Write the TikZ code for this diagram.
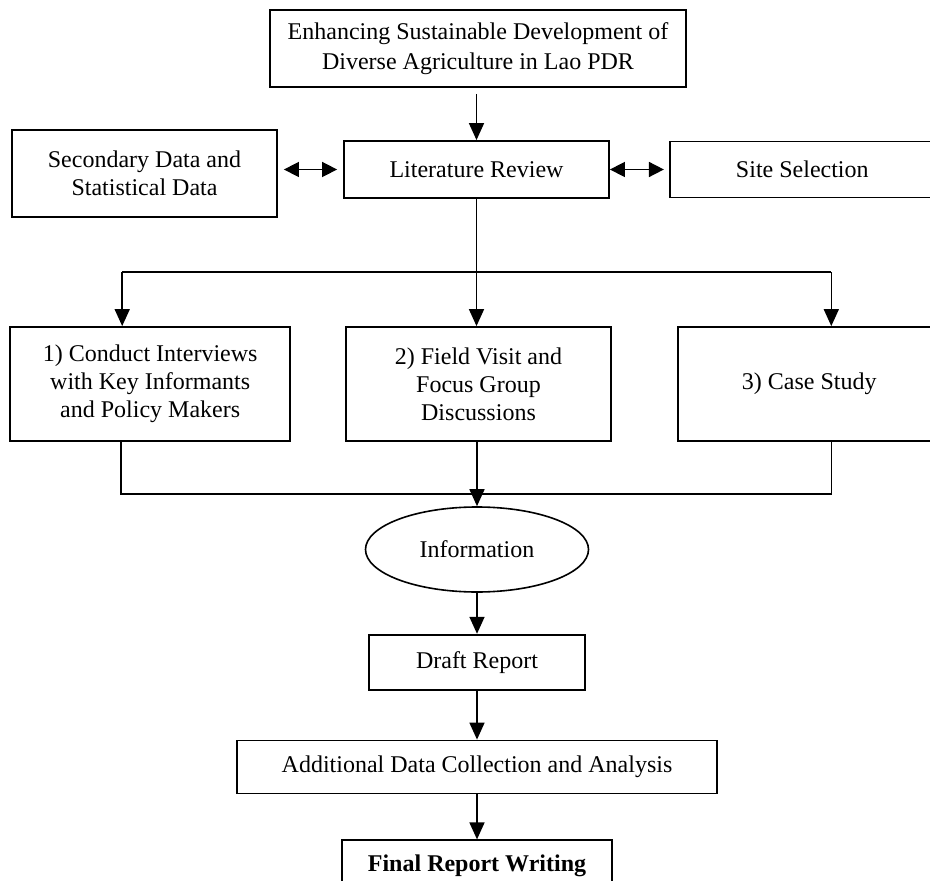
\documentclass[tikz,border=0pt]{standalone}
\usepackage{fontspec}
\setmainfont{Liberation Serif}
\usepackage{tikz}
\usetikzlibrary{arrows.meta,positioning,calc,shapes.geometric}

\begin{document}
\begin{tikzpicture}[
  every node/.style={font=\fontsize{12}{14}\selectfont},
  block/.style={draw,line width=0.9pt,inner sep=2pt,align=center},
  arr/.style={-{Triangle[length=8.5pt,width=7.5pt]},line width=0.8pt},
  dbl/.style={{Triangle[length=7.5pt,width=7.5pt]}-{Triangle[length=7.5pt,width=7.5pt]},line width=0.8pt},
  link/.style={line width=0.8pt}
]
\useasboundingbox (0,0) rectangle (465pt,-440.5pt);
\node[block,font=\fontsize{12}{15}\selectfont,minimum width=208pt,minimum height=38.5pt] (top) at (239pt,-24.25pt) {Enhancing Sustainable Development of\\Diverse Agriculture in Lao PDR};
\node[block,minimum width=132.5pt,minimum height=28.5pt] (lit) at (238.25pt,-84.75pt) {Literature Review};
\node[block,minimum width=132.5pt,minimum height=43.5pt] (sec) at (72.25pt,-86.75pt) {Secondary Data and\\Statistical Data};
\node[block,right=29.5pt of lit,minimum width=132.5pt,minimum height=28pt] (site) {Site Selection};
\node[block,minimum width=132.5pt,minimum height=57pt] (field) at (239.25pt,-192pt) {2) Field Visit and\\Focus Group\\Discussions};
\node[block,left=27pt of field,minimum width=140pt,minimum height=57pt] (intv) {1) Conduct Interviews\\with Key Informants\\and Policy Makers};
\node[block,right=32.5pt of field,minimum width=131.5pt,minimum height=57pt] (cases) {3) Case Study};
\node[draw,ellipse,line width=0.8pt,inner sep=0pt,minimum width=111.5pt,minimum height=42.5pt] (info) at (238.5pt,-274.75pt) {Information};
\node[block,below=20.5pt of info,minimum width=108pt,minimum height=27.5pt] (draft) {Draft Report};
\node[block,below=24.5pt of draft,minimum width=240pt,minimum height=26.5pt] (addl) {Additional Data Collection and Analysis};
\node[block,below=22.5pt of addl,minimum width=135pt,minimum height=26pt] (final) {\textbf{Final Report Writing}};

% top part
\draw[arr,shorten <=3pt] (lit.north |- top.south) -- (lit.north);
\draw[dbl,shorten <=3pt,shorten >=3pt] (sec.east |- lit.west) -- (lit.west);
\draw[dbl,shorten >=2.5pt] (lit.east) -- (site.west);

% split to the three methods
\coordinate (splitL) at ($(intv.north)+(-14pt,27pt)$);
\coordinate (splitR) at ($(cases.north)+(11pt,27pt)$);
\draw[link] (splitL) -- (splitR);
\draw[arr] (lit.south) -- (lit.south |- field.north);
\draw[arr] (splitL) -- (splitL |- intv.north);
\draw[arr] (splitR) -- (splitR |- cases.north);

% join into information
\coordinate (joinL) at ($(intv.south)+(-14.5pt,-26pt)$);
\coordinate (joinR) at ($(cases.south)+(11pt,-26pt)$);
\draw[link] (intv.south -| joinL) -- (joinL) -- (joinR) -- (cases.south -| joinR);
\draw[arr] (field.south -| info.north) -- (info.north);
\draw[arr] (info) -- (draft);
\draw[arr] (draft) -- (addl);
\draw[arr] (addl) -- (final);
\end{tikzpicture}
\end{document}
